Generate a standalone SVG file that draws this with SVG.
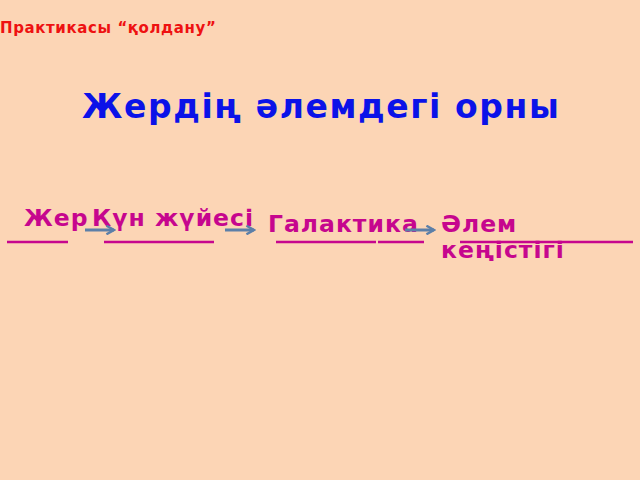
<svg xmlns="http://www.w3.org/2000/svg" width="640" height="480" viewBox="0 0 640 480">
<style>
.lbl{font-family:"DejaVu Sans",Verdana,sans-serif;font-weight:bold;font-size:23.5px;letter-spacing:1px;fill:#C6068E}
.ul{stroke:#C6068E;stroke-width:2.6;fill:none}
.arr{stroke:#5C7FA8;stroke-width:3;fill:none}
</style>
<defs>
<marker id="ah" viewBox="0 0 10 10" refX="8" refY="5" markerWidth="3.6" markerHeight="3.6" orient="auto" markerUnits="strokeWidth">
<path d="M1,1 L8,5 L1,9" fill="none" stroke="#5C7FA8" stroke-width="2.2"/>
</marker>
</defs>
<rect width="640" height="480" fill="#FCD5B5"/>
<text x="0" y="33" font-family="DejaVu Sans,sans-serif" font-weight="bold" font-size="15" letter-spacing="0.6" fill="#EE1111">Практикасы “қолдану”</text>
<text x="82" y="118" font-family="DejaVu Sans,sans-serif" font-weight="bold" font-size="33" letter-spacing="1.6" fill="#0B12E8">Жердің әлемдегі орны</text>
<g id="n-jer"><text class="lbl" x="24" y="226">Жер</text><line class="ul" x1="7" y1="242" x2="68" y2="242"/></g>
<g id="n-kun"><text class="lbl" x="92" y="226">Күн жүйесі</text><line class="ul" x1="104" y1="242" x2="214" y2="242"/></g>
<g id="n-gal"><text class="lbl" x="268" y="232">Галактика</text><line class="ul" x1="276" y1="242" x2="376" y2="242"/><line class="ul" x1="378" y1="242" x2="424" y2="242"/></g>
<g id="n-alem"><text class="lbl" x="441" y="232">Әлем</text><text class="lbl" x="441" y="258">кеңістігі</text><line class="ul" x1="460" y1="242" x2="633" y2="242"/></g>
<g id="connectors">
<line class="arr" x1="85" y1="230" x2="114" y2="230" marker-end="url(#ah)"/>
<line class="arr" x1="225" y1="230" x2="254" y2="230" marker-end="url(#ah)"/>
<line class="arr" x1="405" y1="230" x2="434" y2="230" marker-end="url(#ah)"/>
</g>
</svg>
